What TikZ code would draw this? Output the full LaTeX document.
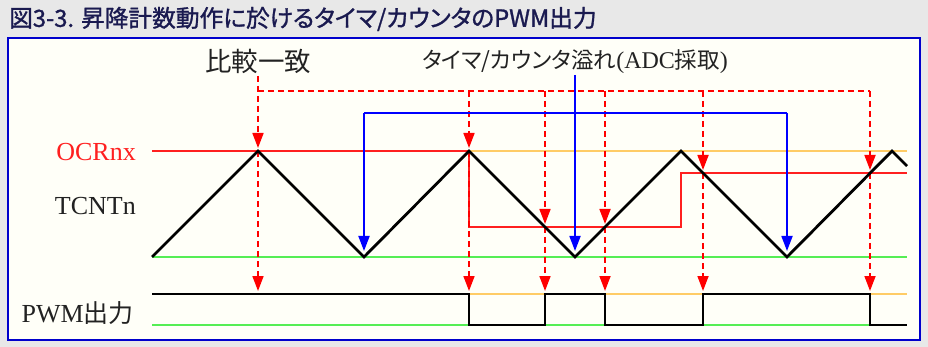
\documentclass[tikz,border=0pt]{standalone}
\usepackage{fontspec}
\setmainfont{Liberation Serif}
\newfontfamily\jp[RawFeature=+palt]{Noto Sans CJK JP}
\newfontfamily\jpb[RawFeature=+palt,FakeBold=1.2]{Noto Sans CJK JP}
\usetikzlibrary{arrows.meta}
\definecolor{bg}{HTML}{E8E8E8}
\definecolor{paper}{HTML}{FFFFF8}
\definecolor{frame}{HTML}{0000CC}
\definecolor{ttl}{HTML}{1A1A50}
\definecolor{ocr}{HTML}{FF2020}
\definecolor{orng}{HTML}{FFCC66}
\definecolor{grn}{HTML}{55EE55}
\definecolor{blu}{HTML}{0000FF}
\definecolor{ink}{HTML}{222222}
\tikzset{
  wave/.style={line width=2.8pt, black, line join=miter},
  refline/.style={line width=1.8pt},
  dsh/.style={red, line width=1.7pt, dash pattern=on 6pt off 4pt},
  bluline/.style={blu, line width=1.8pt},
  tipr/.style={-{Triangle[width=11pt,length=15pt]}, shorten >=3pt},
  lbl/.style={inner sep=0pt, text=ink, font=\fontsize{26}{30}\selectfont},
  jlbl/.style={inner sep=0pt, text=ink, font=\jp\fontsize{26.5}{30}\selectfont},
}
\begin{document}
\begin{tikzpicture}[x=1pt,y=-1pt]
\useasboundingbox (0,0) rectangle (928,347);
\fill[bg] (0,0) rectangle (928,347);
\node[anchor=west, inner sep=0pt, text=ttl, font=\jpb\fontsize{23.7}{28}\selectfont] (title) at (9,19) {図3-3. 昇降計数動作に於けるタイマ/カウンタのPWM出力};
\draw[frame, fill=paper, line width=1.8pt] (8,38) rectangle (920,340);

% labels
\node[lbl, text=ocr, anchor=east] (ocrl) at (136,152) {OCRnx};
\node[lbl, anchor=east] (tcntl) at (136,206) {TCNTn};
\node[lbl, anchor=east] (pwml) at (134,313) {PWM{\jp\fontsize{25}{30}\selectfont 出力}};
\node[jlbl] (hk) at (258,61) {比較一致};
\node[inner sep=0pt, text=ink, font=\jp\fontsize{22.5}{28}\selectfont] (ovf) at (575,62) {タイマ/カウンタ溢れ{\rmfamily\fontsize{24}{28}\selectfont (ADC}採取{\rmfamily\fontsize{24}{28}\selectfont )}};

% coordinates
\coordinate (s0) at (152,257);
\coordinate (p1) at (258,151);
\coordinate (b1) at (364,257);
\coordinate (p2) at (469,151);
\coordinate (b2) at (575,257);
\coordinate (p3) at (681,151);
\coordinate (b3) at (787,257);
\coordinate (p4) at (892,151);
\coordinate (e0) at (907,166);

% reference lines
\draw[refline, orng] (152,151) -- (907,151);
\draw[refline, orng] (152,294) -- (907,294);
\draw[refline, grn] (152,257) -- (907,257);
\draw[refline, grn] (152,325) -- (907,325);
\draw[refline, ocr] (152,151) -- (p2) -- (469,227) -- (681,227) -- (681,173) -- (907,173);

% dashed compare-match lines
\coordinate (hk0) at (258,76);
\coordinate (t0) at (258,91);
\coordinate (t1) at (469,91);
\coordinate (t2) at (545,91);
\coordinate (t3) at (605,91);
\coordinate (t4) at (703,91);
\coordinate (t5) at (870,91);
\coordinate (x2) at (545,227);
\coordinate (x3) at (605,227);
\coordinate (x4) at (703,173);
\coordinate (x5) at (870,173);
\coordinate (h0) at (258,294);
\coordinate (h1) at (469,294);
\coordinate (h2) at (545,294);
\coordinate (h3) at (605,294);
\coordinate (h4) at (703,294);
\coordinate (h5) at (870,294);
\draw[dsh] (t0) -- (t5);
\draw[dsh, tipr] (hk0) -- (p1);
\draw[dsh, tipr] (p1) -- (h0);
\draw[dsh, tipr] (t1) -- (p2);
\draw[dsh, tipr] (p2) -- (h1);
\draw[dsh, tipr] (t2) -- (x2);
\draw[dsh, tipr] (x2) -- (h2);
\draw[dsh, tipr] (t3) -- (x3);
\draw[dsh, tipr] (x3) -- (h3);
\draw[dsh, tipr] (t4) -- (x4);
\draw[dsh, tipr] (x4) -- (h4);
\draw[dsh, tipr] (t5) -- (x5);
\draw[dsh, tipr] (x5) -- (h5);

% blue overflow lines
\coordinate (ov0) at (575,75);
\coordinate (u1) at (364,113);
\coordinate (u3) at (787,113);
\draw[bluline] (u1) -- (u3);
\draw[bluline, tipr, shorten >=6pt] (u1) -- (b1);
\draw[bluline, tipr, shorten >=6pt] (ov0) -- (b2);
\draw[bluline, tipr, shorten >=6pt] (u3) -- (b3);

% waveforms
\draw[wave] (s0) -- (p1) -- (b1) -- (p2) -- (b2) -- (p3) -- (b3) -- (p4) -- (e0);
\draw[wave] (152,294) -- (469,294) -- (469,325) -- (545,325) -- (545,294) -- (605,294) -- (605,325) -- (703,325) -- (703,294) -- (870,294) -- (870,325) -- (907,325);
\end{tikzpicture}
\end{document}
